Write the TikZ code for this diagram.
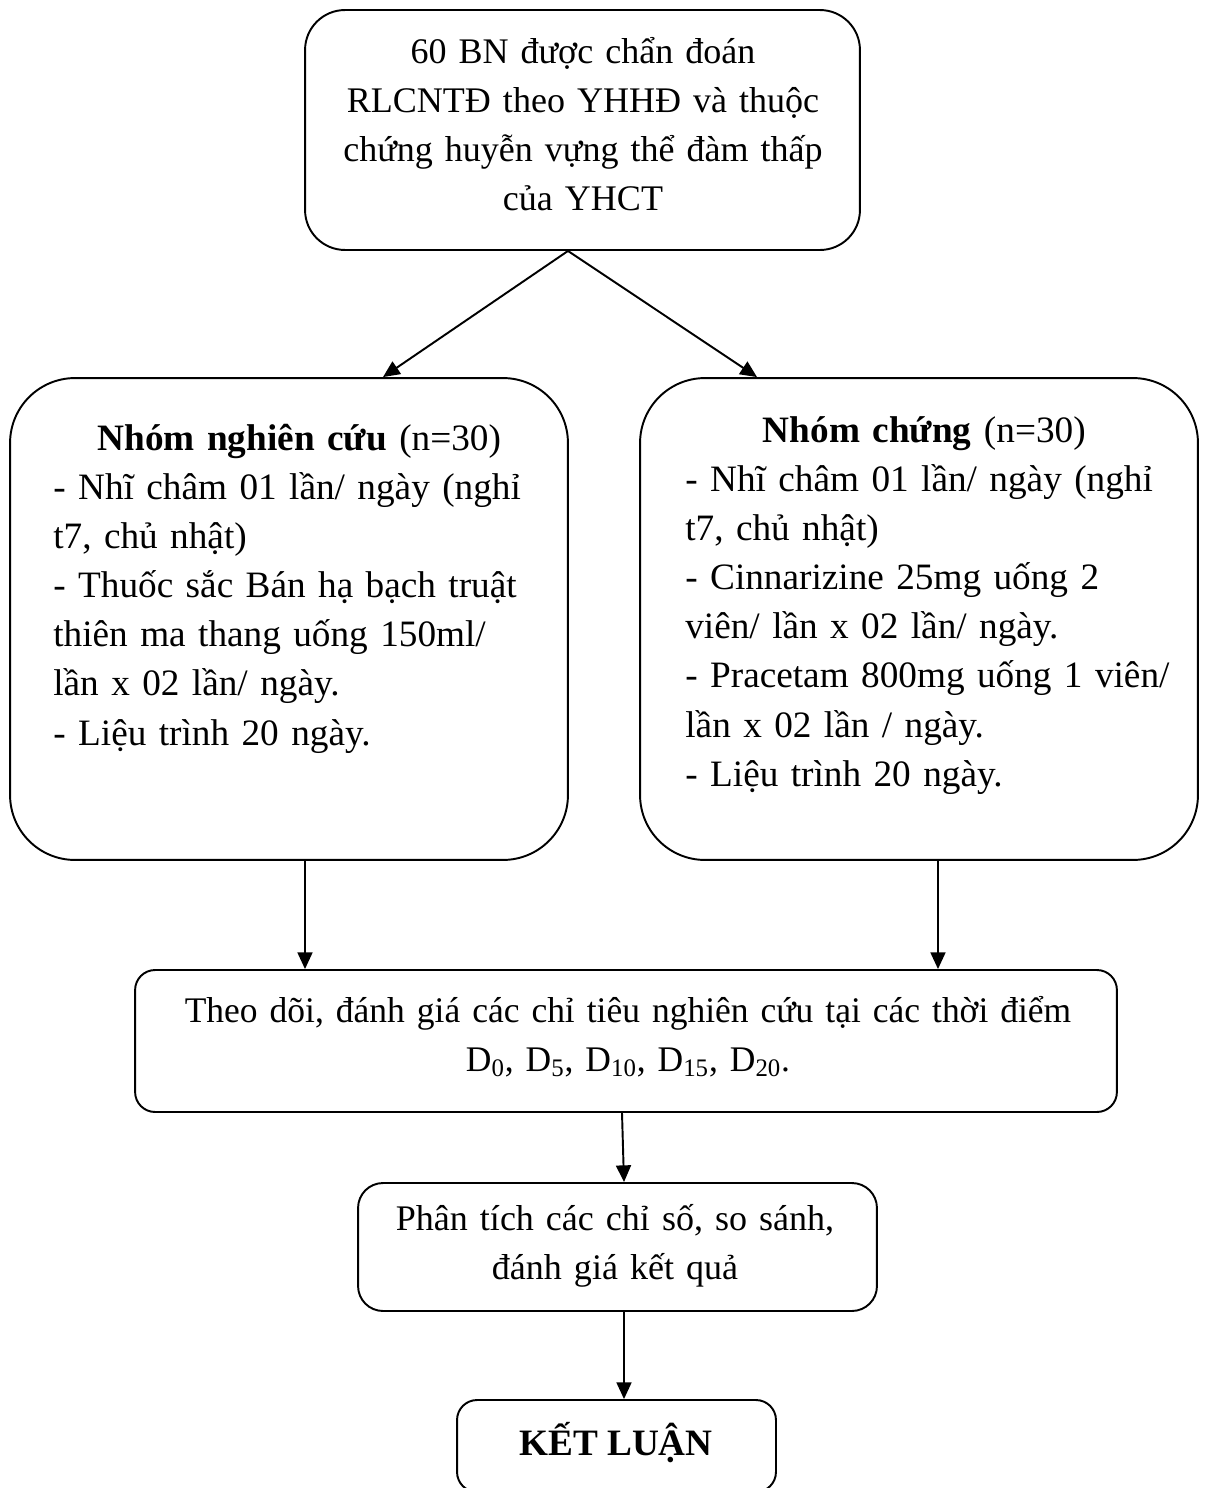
\documentclass[tikz,border=0pt]{standalone}
\usepackage{fontspec}
\setmainfont{Liberation Serif}
\newfontfamily\narrowserif[FakeStretch=0.985]{Liberation Serif}
\usetikzlibrary{arrows.meta, positioning}

\begin{document}
\begin{tikzpicture}[x=0.02cm, y=-0.02cm,
    box/.style={draw, line width=1.1pt, inner sep=0pt},
    txt/.style={inner sep=0pt, font=\fontsize{21.2}{28}\selectfont},
    small/.style={inner sep=0pt, font=\fontsize{20.5}{28}\selectfont},
    >={Triangle[length=9.5pt, width=8.5pt]}]
  \useasboundingbox (0,0) rectangle (1210,1488);
  % boxes
  \node (top)[box, rounded corners=0.8cm, minimum width=11.1cm, minimum height=4.8cm] at (582.5,130) {};
  \node (left)[box, rounded corners=1.3cm, minimum width=11.16cm, minimum height=9.64cm] at (289,619) {};
  \node (right)[box, rounded corners=1.3cm, minimum width=11.16cm, minimum height=9.64cm] at (919,619) {};
  \node (mid)[box, rounded corners=0.4cm, minimum width=19.64cm, minimum height=2.84cm] at (626,1041) {};
  \node (ana)[box, rounded corners=0.5cm, minimum width=10.38cm, minimum height=2.56cm] at (617.5,1247) {};
  \node (con)[box, rounded corners=0.4cm, minimum width=6.38cm, minimum height=1.84cm] at (616.5,1446) {};
  % texts
  \node (toptext)[small, anchor=base, align=center, text width=11cm] at (583,63)
    {60 BN được chẩn đoán\\RLCNTĐ theo YHHĐ và thuộc\\chứng huyễn vựng thể đàm thấp\\của YHCT};
  \node (lefttext)[txt, anchor=base west, align=left, text width=10.5cm] at (53,450)
    {\makebox[9.84cm]{\textbf{Nhóm nghiên cứu} (n=30)}\\
     - Nhĩ châm 01 lần/ ngày (nghỉ\\
     t7, chủ nhật)\\
     - Thuốc sắc Bán hạ bạch truật\\
     thiên ma thang uống 150ml/\\
     lần x 02 lần/ ngày.\\
     - Liệu trình 20 ngày.};
  \node (righttext)[txt, anchor=base west, align=left, text width=10.5cm] at (685,442)
    {\makebox[9.56cm]{\textbf{Nhóm chứng} (n=30)}\\
     - Nhĩ châm 01 lần/ ngày (nghỉ\\
     t7, chủ nhật)\\
     - Cinnarizine 25mg uống 2\\
     viên/ lần x 02 lần/ ngày.\\
     - Pracetam 800mg uống 1 viên/\\
     lần x 02 lần / ngày.\\
     - Liệu trình 20 ngày.};
  \node (midtext)[inner sep=0pt, anchor=base, align=center, text width=23cm,
      font={\narrowserif\fontsize{20.5}{28}\selectfont}] at (628,1022)
    {Theo dõi, đánh giá các chỉ tiêu nghiên cứu tại các thời điểm\\
     D\textsubscript{0}, D\textsubscript{5}, D\textsubscript{10}, D\textsubscript{15}, D\textsubscript{20}.};
  \node (anatext)[small, anchor=base, align=center, text width=10cm] at (615,1230)
    {Phân tích các chỉ số, so sánh,\\đánh giá kết quả};
  \node (context)[inner sep=0pt, anchor=base, font={\fontsize{21.2}{28}\selectfont\bfseries}] at (616,1455) {KẾT LUẬN};
  % connectors
  \coordinate (split) at ([xshift=-0.29cm]top.south);
  \draw[->, line width=1.1pt] (split) -- ([xshift=1.88cm]left.north);
  \draw[->, line width=1.1pt] (split) -- ([xshift=-3.24cm]right.north);
  \draw[->, line width=1.1pt] ([xshift=0.32cm]left.south) -- ([xshift=0.32cm]left.south |- mid.north);
  \draw[->, line width=1.1pt] ([xshift=0.38cm]right.south) -- ([xshift=0.38cm]right.south |- mid.north);
  \draw[->, line width=1.1pt] ([xshift=-0.08cm]mid.south) -- ([xshift=0.13cm]ana.north);
  \draw[->, line width=1.1pt] ([xshift=0.13cm]ana.south) -- ([xshift=0.15cm]con.north);
\end{tikzpicture}
\end{document}
